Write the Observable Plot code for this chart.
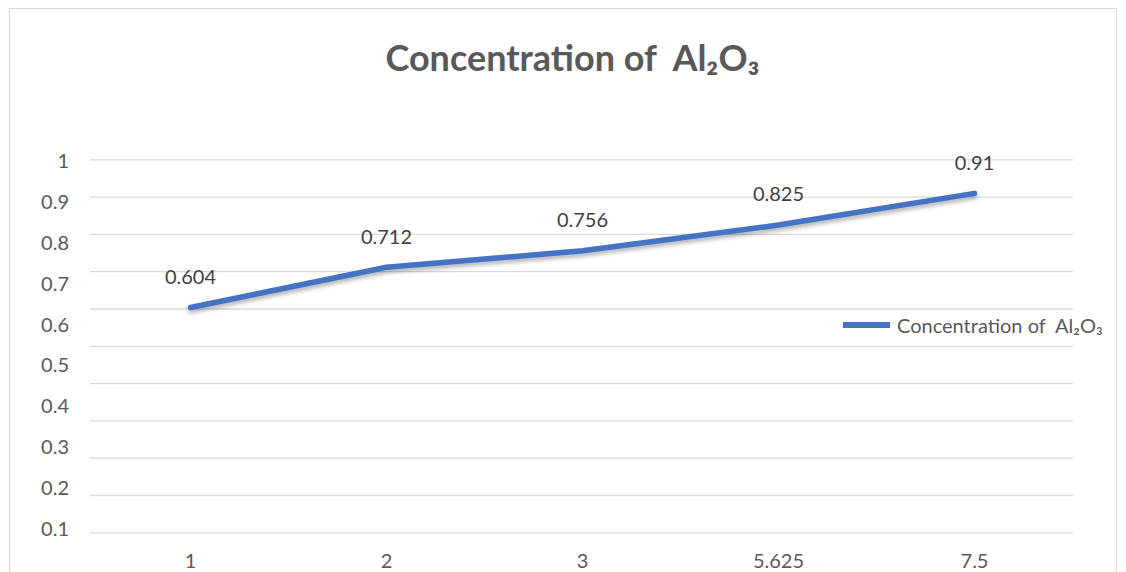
<!DOCTYPE html>
<html>
<head>
<meta charset="utf-8">
<script src="https://cdn.jsdelivr.net/npm/d3@7"></script>
<script src="https://cdn.jsdelivr.net/npm/@observablehq/plot@0.6"></script>
<style>
  html, body { margin: 0; padding: 0; background: #fff; }
  #wrap { position: relative; width: 1126px; height: 572px; overflow: hidden; font-family: Lato, "Noto Sans", sans-serif; }
  #frame { position: absolute; left: 9px; top: 8px; width: 1108px; height: 700px; border: 1px solid #d9d9d9; box-sizing: border-box; }
  #title { position: absolute; left: 0; width: 1145px; top: 33px; text-align: center; font-weight: 700; font-size: 36px; color: #595959; white-space: pre; line-height: 48px; }
  #legend { position: absolute; left: 843px; top: 313px; display: flex; align-items: center; font-size: 20px; color: #595959; white-space: pre; }
  #legend .sw { width: 47px; height: 6px; background: #4472C4; margin-right: 7px; }
  .layer { position: absolute; left: 0; top: 0; }
</style>
</head>
<body>
<div id="wrap">
  <div id="frame"></div>
  <div id="plot" class="layer"></div>
  <div id="yaxis" class="layer"></div>
  <div id="title">Concentration of  Al₂O₃</div>
  <div id="legend"><span class="sw"></span><span>Concentration of  Al₂O₃</span></div>
</div>
<script>
const categories = ["1", "2", "3", "5.625", "7.5"];
const values = [0.604, 0.712, 0.756, 0.825, 0.91];
const yTickLabels = [0.1, 0.2, 0.3, 0.4, 0.5, 0.6, 0.7, 0.8, 0.9, 1];
const gridValues = [0, 0.1, 0.2, 0.3, 0.4, 0.5, 0.6, 0.7, 0.8, 0.9, 1];

const data = categories.map((c, i) => ({cat: c, val: values[i]}));

const main = Plot.plot({
  width: 1126,
  height: 572,
  marginLeft: 90,
  marginRight: 53,
  marginTop: 159.3,
  marginBottom: 39.7,
  x: {type: "point", domain: categories, padding: 0.5},
  y: {domain: [0, 1], axis: null},
  style: {fontFamily: "Lato, 'Noto Sans', sans-serif", fontSize: "20px", color: "#595959", background: "transparent", overflow: "visible"},
  marks: [
    Plot.ruleY(gridValues, {stroke: "#d9d9d9", strokeWidth: 1.3}),
    Plot.line(data, {x: "cat", y: "val", stroke: "#4472C4", strokeWidth: 5.5, strokeLinejoin: "round", imageFilter: "drop-shadow(0px 3px 2px rgba(0,0,0,0.3))"}),
    Plot.text(data, {x: "cat", y: "val", text: d => String(d.val), dy: -30, fill: "#404040", fontSize: 20}),
    Plot.axisX({tickSize: 0, tickPadding: 21, fill: "#595959", fontSize: 20, label: null})
  ]
});
document.getElementById("plot").appendChild(main);

const yaxis = Plot.plot({
  width: 1126,
  height: 572,
  marginLeft: 90,
  marginRight: 53,
  marginTop: 161.3,
  marginBottom: 43.2,
  y: {domain: [0.1, 1]},
  style: {fontFamily: "Lato, 'Noto Sans', sans-serif", fontSize: "20px", color: "#595959", background: "transparent"},
  marks: [
    Plot.axisY(yTickLabels, {tickSize: 0, tickPadding: 21.5, fill: "#595959", fontSize: 20, tickFormat: d => String(d), label: null})
  ]
});
document.getElementById("yaxis").appendChild(yaxis);
</script>
</body>
</html>
